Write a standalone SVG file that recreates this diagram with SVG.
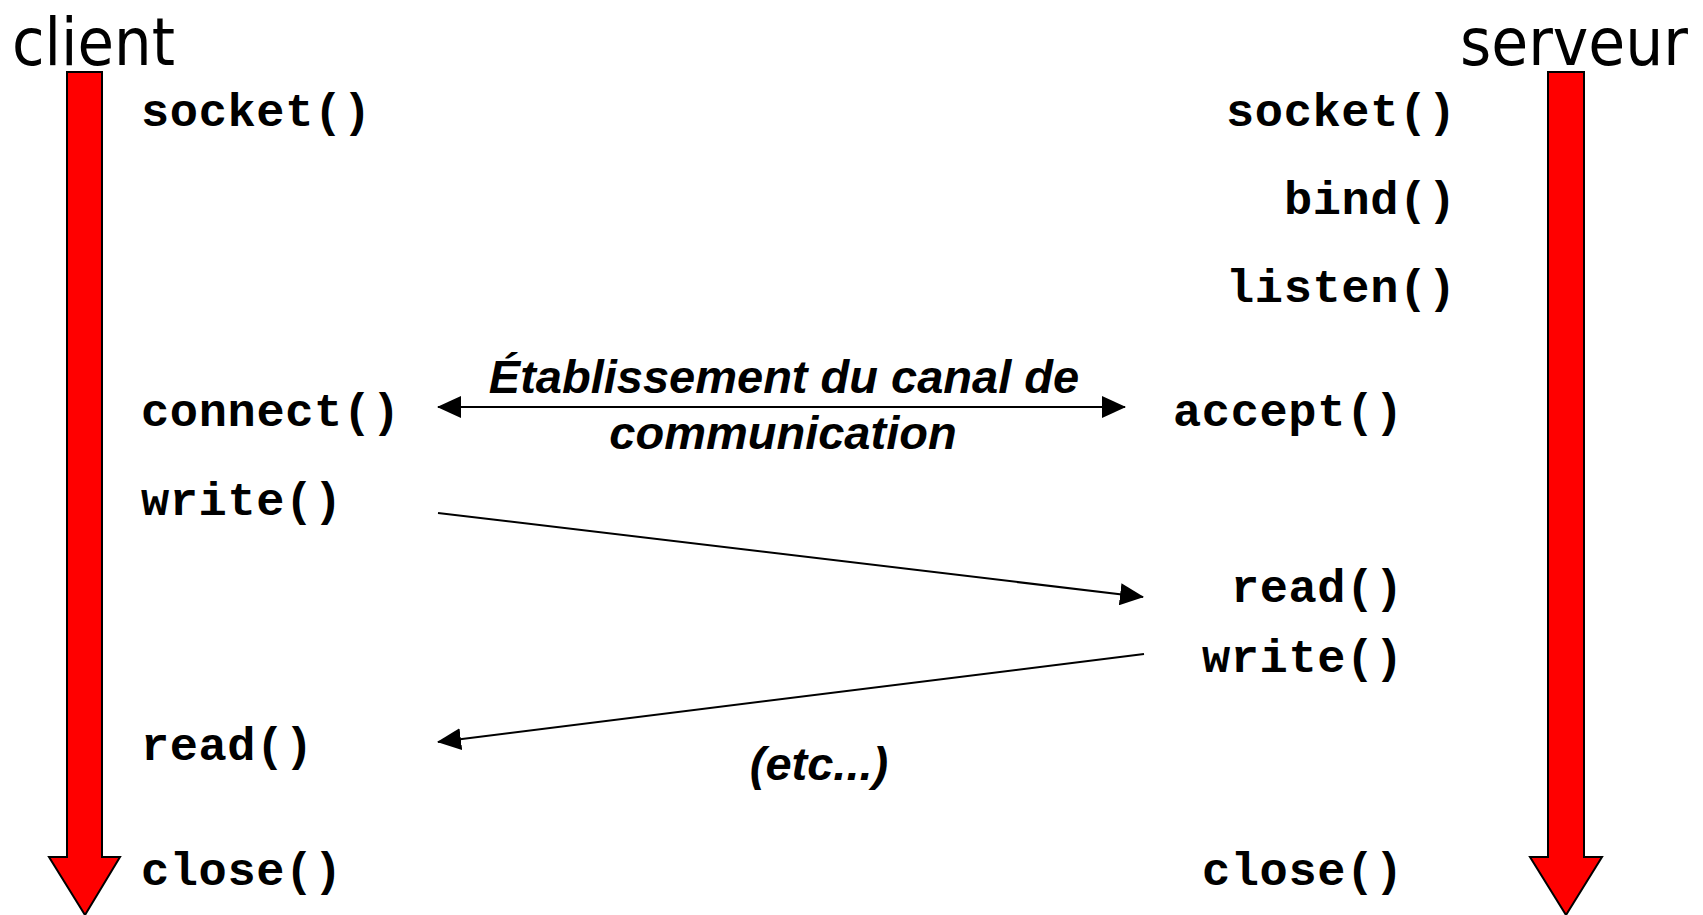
<svg xmlns="http://www.w3.org/2000/svg" width="1703" height="915" viewBox="0 0 1703 915">
  <style>
    .title { font-family: "DejaVu Sans Condensed", "DejaVu Sans", "Liberation Sans", sans-serif; font-stretch: condensed; font-size: 66px; fill: #000; }
    .call { font-family: "Liberation Mono", "DejaVu Sans Mono", monospace; font-weight: bold; font-size: 47px; fill: #000; }
    .note { font-family: "Liberation Sans", Arial, sans-serif; font-weight: bold; font-style: italic; font-size: 47px; fill: #000; text-anchor: middle; }
    .timeline { fill: #ff0000; stroke: #000; stroke-width: 2; stroke-linejoin: miter; }
    .msg { stroke: #000; stroke-width: 2; fill: none; }
  </style>
  <defs>
    <marker id="head" viewBox="0 0 24 22" refX="23" refY="11" markerWidth="24" markerHeight="22" markerUnits="userSpaceOnUse" orient="auto-start-reverse">
      <path d="M0,0 L24,11 L0,22 Z" fill="#000"/>
    </marker>
  </defs>
  <rect width="1703" height="915" fill="#fff"/>

  <!-- client side -->
  <g id="client">
    <text class="title" x="12" y="65" textLength="163" lengthAdjust="spacingAndGlyphs">client</text>
    <path class="timeline" d="M67,72 H102 V857 H120 L85,915 L49,857 H67 Z"/>
    <text class="call" x="141" y="126" textLength="230" lengthAdjust="spacing">socket()</text>
    <text class="call" x="141" y="426" textLength="259" lengthAdjust="spacing">connect()</text>
    <text class="call" x="141" y="515" textLength="201" lengthAdjust="spacing">write()</text>
    <text class="call" x="141" y="760" textLength="172" lengthAdjust="spacing">read()</text>
    <text class="call" x="141" y="885" textLength="201" lengthAdjust="spacing">close()</text>
  </g>

  <!-- server side -->
  <g id="serveur">
    <text class="title" x="1460" y="65" textLength="228" lengthAdjust="spacingAndGlyphs">serveur</text>
    <path class="timeline" d="M1548,72 H1584 V857 H1602 L1566,915 L1530,857 H1548 Z"/>
    <text class="call" x="1226" y="126" textLength="230" lengthAdjust="spacing">socket()</text>
    <text class="call" x="1284" y="214" textLength="172" lengthAdjust="spacing">bind()</text>
    <text class="call" x="1226" y="302" textLength="230" lengthAdjust="spacing">listen()</text>
    <text class="call" x="1173" y="426" textLength="230" lengthAdjust="spacing">accept()</text>
    <text class="call" x="1231" y="602" textLength="172" lengthAdjust="spacing">read()</text>
    <text class="call" x="1202" y="672" textLength="201" lengthAdjust="spacing">write()</text>
    <text class="call" x="1202" y="885" textLength="201" lengthAdjust="spacing">close()</text>
  </g>

  <!-- exchanged messages -->
  <g id="connectors">
    <line class="msg" x1="438" y1="407" x2="1125" y2="407" marker-start="url(#head)" marker-end="url(#head)"/>
    <line class="msg" x1="438" y1="513" x2="1143" y2="597" marker-end="url(#head)"/>
    <line class="msg" x1="1144" y1="654" x2="438" y2="742" marker-end="url(#head)"/>
  </g>

  <g id="labels">
    <text class="note" x="784" y="393">Établissement du canal de</text>
    <text class="note" x="783" y="449">communication</text>
    <text class="note" x="819" y="780">(etc...)</text>
  </g>
</svg>
